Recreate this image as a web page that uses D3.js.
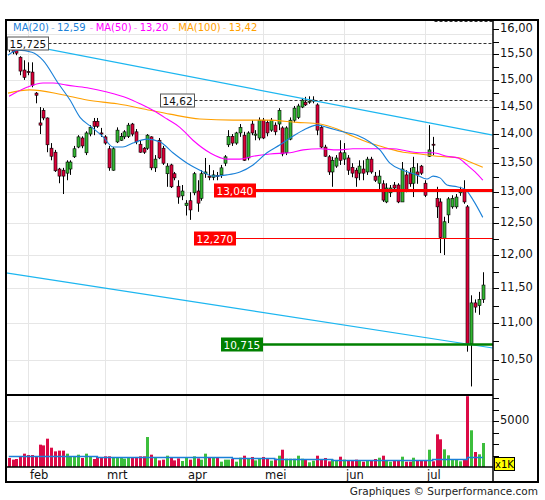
<!DOCTYPE html>
<html>
<head>
<meta charset="utf-8">
<script src="https://cdn.jsdelivr.net/npm/d3@7"></script>
<style>
body { margin: 0; background: #fff; }
text { font-family: "DejaVu Sans", Verdana, sans-serif; }
</style>
</head>
<body>
<svg id="chart" width="545" height="500"></svg>
<script>
// daily candles, index 0 = last days of january
var opens = [15.68,15.66,15.62,15.44,15.19,15.16,15.15,14.75,14.20,14.43,14.29,13.75,13.68,13.39,13.37,13.32,13.39,13.60,13.77,13.93,
  13.67,14.00,14.23,14.23,14.02,13.95,13.74,13.37,13.86,13.89,13.95,13.96,14.18,14.04,13.82,13.75,13.75,13.95,13.41,13.89,
  13.75,13.31,13.46,13.31,13.10,12.94,12.78,12.86,12.99,13.02,12.90,13.31,13.27,13.25,13.28,13.29,13.49,13.81,13.96,13.84,
  14.02,13.98,13.58,14.18,13.98,13.93,14.25,14.21,14.07,14.16,14.18,14.11,13.67,13.91,14.25,14.30,14.49,14.58,14.58,14.60,
  14.53,14.12,13.77,13.60,13.34,13.44,13.67,13.56,13.58,13.42,13.37,13.32,13.39,13.34,13.56,13.27,13.15,13.14,12.84,12.99,
  13.12,13.12,12.84,13.29,13.32,13.15,13.34,13.44,13.15,13.61,13.82,12.90,12.84,12.26,12.63,12.76,12.76,12.99,13.04,12.76,
  10.715,11.29,11.25,11.34]
var highs = [15.725,15.70,15.66,15.46,15.38,15.34,15.34,14.77,14.49,14.47,14.30,13.84,13.72,13.41,13.41,13.54,13.54,13.79,13.98,13.96,
  14.05,14.16,14.29,14.29,14.11,13.98,13.79,13.77,14.12,14.02,14.07,14.20,14.20,14.09,13.89,13.77,14.00,13.96,13.63,13.93,
  13.79,13.49,13.48,13.34,13.20,13.12,12.87,13.00,13.34,13.20,13.37,13.58,13.46,13.37,13.34,13.46,13.63,14.07,14.00,14.04,
  14.18,14.04,14.05,14.25,14.07,14.30,14.29,14.25,14.29,14.21,14.47,14.14,14.14,14.30,14.51,14.55,14.66,14.68,14.69,14.69,
  14.56,14.16,13.81,13.63,13.60,13.63,13.89,13.84,13.63,13.49,13.41,13.54,13.54,13.60,13.60,13.34,13.37,13.20,13.15,13.12,
  13.17,13.15,13.51,13.37,13.41,13.60,13.49,13.46,13.20,14.16,13.95,13.09,12.90,12.60,12.92,12.95,12.97,13.09,13.20,12.79,
  11.40,11.34,11.45,11.74]
var lows = [15.54,15.50,15.48,15.09,15.00,15.09,14.86,14.56,14.00,14.25,13.68,13.54,13.34,13.15,12.97,13.20,13.29,13.58,13.75,13.75,
  13.63,13.96,13.98,14.11,13.95,13.81,13.36,13.36,13.84,13.88,13.91,13.93,13.96,13.82,13.67,13.65,13.72,13.37,13.34,13.56,
  13.46,13.09,13.07,13.20,12.81,12.87,12.62,12.55,12.95,12.68,12.86,13.24,13.20,13.20,13.20,13.24,13.44,13.77,13.79,13.81,
  13.95,13.53,13.54,13.98,13.89,13.89,13.91,13.96,14.04,13.98,14.07,13.61,13.63,13.89,14.21,14.27,14.47,14.51,14.55,14.56,
  13.98,13.75,13.60,13.29,13.09,13.41,13.46,13.46,13.29,13.25,13.09,13.20,13.20,13.29,13.31,13.17,13.04,12.84,12.82,12.92,
  13.04,12.82,12.84,13.00,13.09,12.92,13.14,13.29,12.92,13.60,13.63,12.58,12.03,12.00,12.50,12.73,12.73,12.94,12.81,10.61,
  10.15,11.15,11.12,11.29]
var closes = [15.60,15.55,15.52,15.17,15.05,15.14,14.90,14.71,14.16,14.29,13.81,13.61,13.36,13.27,13.27,13.51,13.51,13.74,13.95,13.79,
  14.02,14.12,14.14,14.14,14.00,13.84,13.41,13.74,14.07,13.96,14.04,14.16,14.00,13.86,13.68,13.68,13.98,13.41,13.56,13.58,
  13.49,13.44,13.09,13.24,12.92,13.02,12.82,12.71,13.31,12.82,13.31,13.34,13.25,13.29,13.27,13.41,13.60,13.96,13.84,14.02,
  14.12,13.54,14.02,14.02,14.00,14.25,13.93,14.02,14.25,14.04,14.43,13.65,14.11,14.25,14.47,14.51,14.62,14.53,14.60,14.62,
  14.07,13.77,13.61,13.34,13.54,13.58,13.54,13.67,13.37,13.32,13.24,13.44,13.32,13.56,13.34,13.20,13.27,12.87,13.07,13.07,
  13.07,12.84,13.39,13.04,13.14,13.42,13.29,13.32,12.95,13.72,13.81,12.76,12.27,12.52,12.89,12.90,12.92,13.04,12.84,10.715,
  11.29,11.23,11.34,11.55]
var volumes = [980,800,870,1090,1450,1300,1300,1160,2430,2350,3080,2100,1700,1780,1780,1450,1160,1160,1340,980,
  1450,1090,870,1090,1090,1160,1160,1090,1010,1010,910,1010,1010,1090,1160,1160,3260,1340,1090,720,
  800,1230,1010,720,940,650,1010,800,1160,940,800,1450,1010,1090,1010,580,800,800,870,580,
  1010,1230,940,1090,720,940,1090,870,690,900,1230,1880,900,900,900,1230,900,800,510,690,
  1230,800,980,615,800,690,1120,800,690,690,800,690,580,690,690,870,1010,1230,690,580,
  720,720,1120,580,580,1010,720,720,720,1880,620,3550,3010,1920,1270,760,760,620,760,7700,
  3990,1630,1380,2610]

// moving averages: [day index, price]
var ma20 = [[-0.2,15.48],[2.4,15.58],[6,15.54],[8.9,15.38],[12.8,14.94],[15.9,14.62],[18.5,14.30],[21.6,14.12],[24.5,13.95],
  [27.1,13.77],[29.6,13.77],[32.2,13.84],[35.9,13.91],[39.3,13.86],[42.6,13.67],[46.3,13.49],[49.6,13.37],[53,13.27],
  [56.6,13.29],[60,13.34],[63.4,13.46],[67,13.67],[70.4,13.81],[73,13.93],[76.4,14.07],[80,14.16],[82.6,14.12],[86.7,14.04],
  [90.4,13.98],[93.7,13.86],[96.3,13.72],[98.9,13.49],[102.3,13.37],[105.9,13.29],[108.5,13.22],[110.1,13.27],[111.9,13.24],
  [113.7,13.12],[116.3,13.09],[118.4,13.05],[120.5,12.87],[123,12.59]]
var ma50 = [[0.1,14.69],[4.7,14.86],[8.9,14.94],[11.5,14.94],[15.1,14.90],[20.3,14.85],[25.5,14.77],[30.7,14.66],[34.1,14.55],
  [37.4,14.43],[41.1,14.27],[44.4,14.12],[47.8,13.89],[52.2,13.67],[56.6,13.56],[60,13.56],[63.4,13.61],[67.8,13.65],
  [73,13.67],[76.4,13.72],[80.8,13.74],[85.2,13.72],[89.3,13.74],[94.5,13.74],[99.7,13.74],[103.3,13.70],[106.7,13.67],
  [110.1,13.67],[113.7,13.61],[116.6,13.58],[118.9,13.46],[121,13.34],[123,13.20]]
var ma100 = [[-0.2,14.75],[5.5,14.81],[13.3,14.73],[20.3,14.62],[28.1,14.55],[36.7,14.43],[41.8,14.36],[49.6,14.27],
  [58.2,14.25],[67,14.25],[74.8,14.21],[80.8,14.18],[85.2,14.09],[89.3,13.96],[93.7,13.84],[98.2,13.75],[102.3,13.68],
  [106.7,13.65],[111.1,13.61],[117.1,13.58],[119.7,13.51],[123,13.42]]
var volAvg = [[0,1190],[23,1120],[58,1010],[69,920],[84,810],[97,710],[110,840],[119,1050],[123,1050]]

var trendUpper = [[-0.7,15.76],[125.6,13.98]]
var trendLower = [[-0.7,11.73],[125.6,10.66]]

var levelPrice = [15.725,14.62,13.04,12.27,10.715,16.16]
var levelLabel = ["15,725","14,62","13,040","12,270","10,715",""]
var levelFrom = [-0.5,39.25,53.26,48.07,55.08,110.3]
var levelKind = ["dash","dash","redThick","redThin","green","dash"]

var monthLabels = ["feb","mrt","apr","mei","jun","jul"]
var monthStart = [5,25,46,66,87,108]
var priceTicks = [10.5,11,11.5,12,12.5,13,13.5,14,14.5,15,15.5,16]
var priceMinor = [10.25,10.75,11.25,11.75,12.25,12.75,13.25,13.75,14.25,14.75,15.25,15.75]
var volTicks = [1250,2500,3750,5000,6250,7500]
var volLabels = [5000]

var legendNames = ["MA(20)","MA(50)","MA(100)"]
var legendValues = [12.59,13.20,13.42]

var nl = d3.formatLocale({decimal:",",thousands:".",grouping:[3],currency:["","€"]})
var f2 = nl.format(".2f")

var pL = 6, pR = 493, pT = 20, priceBottom = 395, volBottom = 467, axisBottom = 482, frameRight = 538
var upColor = "#33b533", downColor = "#dc0039"
var maColors = ["#1a80d8","#ff00ff","#ffa000"]

var candles = opens.map((o,i)=>({i:i,o:o,h:highs[i],l:lows[i],c:closes[i],v:volumes[i]}))

var x = d3.scaleLinear().domain([-0.71,125.65]).range([pL,pR])
var y = d3.scaleLog().domain([10.04,16.19]).range([priceBottom,pT])
var yv = d3.scaleLinear().domain([0,7830]).range([volBottom,priceBottom])

var svg = d3.select("#chart")

var defs = svg.append("defs")
defs.append("clipPath").attr("id","clipPrice").append("rect")
  .attr("x",pL).attr("y",pT).attr("width",pR-pL).attr("height",priceBottom-pT)
defs.append("clipPath").attr("id","clipVol").append("rect")
  .attr("x",pL).attr("y",priceBottom).attr("width",pR-pL).attr("height",volBottom-priceBottom)

// grid
var grid = svg.append("g").attr("stroke","#e6e6e6").attr("stroke-width",1)
grid.selectAll("line.h")
  .data(priceTicks.filter(t=>y(t)>36))
  .enter().append("line")
  .attr("x1",pL).attr("x2",pR)
  .attr("y1",d=>Math.round(y(d))+0.5).attr("y2",d=>Math.round(y(d))+0.5)
grid.selectAll("line.m")
  .data(monthStart)
  .enter().append("line")
  .attr("x1",d=>Math.round(x(d))+0.5).attr("x2",d=>Math.round(x(d))+0.5)
  .attr("y1",pT).attr("y2",volBottom)
grid.append("line")
  .attr("x1",pL).attr("x2",pR)
  .attr("y1",Math.round(yv(5000))+0.5).attr("y2",Math.round(yv(5000))+0.5)
grid.append("line")
  .attr("x1",pL).attr("x2",pR).attr("y1",34.5).attr("y2",34.5)

// candles
var price = svg.append("g").attr("clip-path","url(#clipPrice)")
var cg = price.append("g")
cg.selectAll("line")
  .data(candles)
  .enter().append("line")
  .attr("x1",d=>Math.round(x(d.i))+0.5).attr("x2",d=>Math.round(x(d.i))+0.5)
  .attr("y1",d=>y(d.h)).attr("y2",d=>y(d.l))
  .attr("stroke","#000").attr("stroke-width",1)
cg.selectAll("rect")
  .data(candles)
  .enter().append("rect")
  .attr("x",d=>Math.round(x(d.i))-1)
  .attr("width",3)
  .attr("y",d=>y(Math.max(d.o,d.c)))
  .attr("height",d=>Math.max(1,Math.abs(y(d.o)-y(d.c))))
  .attr("fill",d=>d.c>=d.o?upColor:downColor)
  .attr("stroke","#000").attr("stroke-width",0.6)

// moving averages
var line = d3.line().x(d=>x(d[0])).y(d=>y(d[1])).curve(d3.curveMonotoneX)
price.selectAll("path.ma")
  .data([ma100,ma50,ma20])
  .enter().append("path")
  .attr("d",line)
  .attr("fill","none")
  .attr("stroke",(d,i)=>maColors[2-i])
  .attr("stroke-width",1.1)

// trend lines
var straight = d3.line().x(d=>x(d[0])).y(d=>y(d[1]))
price.selectAll("path.trend")
  .data([trendUpper,trendLower])
  .enter().append("path")
  .attr("d",straight)
  .attr("fill","none")
  .attr("stroke","#1cb6f0").attr("stroke-width",1.2)

// horizontal levels
var kinds = {
  dash:{stroke:"#333",width:1,dash:"3,2",fill:"#fff",text:"#111",border:"#555"},
  redThick:{stroke:"#ff0000",width:3,dash:null,fill:"#ff0000",text:"#fff",border:"#ff0000"},
  redThin:{stroke:"#ff0000",width:1,dash:null,fill:"#ff0000",text:"#fff",border:"#ff0000"},
  green:{stroke:"#008000",width:2.5,dash:null,fill:"#008000",text:"#fff",border:"#008000"}
}
var levels = levelPrice.map((p,i)=>({p:p,label:levelLabel[i],from:levelFrom[i],k:kinds[levelKind[i]]}))
var lg = svg.append("g")
levels.forEach(d=>{
  var yy = Math.round(y(d.p))+0.5
  var x0 = x(d.from)
  var g = lg.append("g")
  var bw = 0
  if (d.label) {
    var t = g.append("text").text(d.label)
      .attr("font-size",10.5).attr("fill",d.k.text)
      .attr("dominant-baseline","central")
    bw = t.node().getComputedTextLength()+4
    g.insert("rect","text")
      .attr("x",Math.round(x0)+0.5).attr("y",yy-6.5)
      .attr("width",Math.round(bw)).attr("height",13)
      .attr("fill",d.k.fill).attr("stroke",d.k.border).attr("stroke-width",1)
    t.attr("x",Math.round(x0)+2.5).attr("y",yy+0.5)
  }
  g.insert("line",":first-child")
    .attr("x1",Math.round(x0+bw)+0.5).attr("x2",pR)
    .attr("y1",yy).attr("y2",yy)
    .attr("stroke",d.k.stroke).attr("stroke-width",d.k.width)
    .attr("stroke-dasharray",d.k.dash)
})

// volume
var vol = svg.append("g").attr("clip-path","url(#clipVol)")
vol.selectAll("rect")
  .data(candles)
  .enter().append("rect")
  .attr("x",d=>Math.round(x(d.i))-1)
  .attr("width",3)
  .attr("y",d=>yv(d.v))
  .attr("height",d=>volBottom-yv(d.v))
  .attr("fill",d=>d.c>=d.o?"#3cbe3c":"#dc0a46")
vol.append("path")
  .datum(volAvg)
  .attr("d",d3.line().x(d=>x(d[0])).y(d=>Math.round(yv(d[1]))+0.5).curve(d3.curveStepAfter))
  .attr("fill","none").attr("stroke","#1a80d8").attr("stroke-width",1.5)

// legend
var leg = svg.append("g").attr("font-size",10)
var lx = 13
legendNames.forEach((n,i)=>{
  var a = leg.append("text").attr("x",lx).attr("y",27.5).attr("dominant-baseline","central")
    .attr("fill",maColors[i]).text(n)
  lx += a.node().getComputedTextLength()+2
  leg.append("text").attr("x",lx).attr("y",27.5).attr("dominant-baseline","central")
    .attr("fill",maColors[i]).attr("opacity",0.45).text("-")
  lx += 6
  var b = leg.append("text").attr("x",lx).attr("y",27.5).attr("dominant-baseline","central")
    .attr("fill",maColors[i]).text(f2(legendValues[i]))
  lx += b.node().getComputedTextLength()+4
  if (i<legendNames.length-1) {
    leg.append("text").attr("x",lx).attr("y",27.5).attr("dominant-baseline","central")
      .attr("fill",maColors[i+1]).attr("opacity",0.45).text("-")
    lx += 6
  }
})

// price axis
var ax = svg.append("g")
ax.selectAll("line.maj")
  .data(priceTicks.concat(priceMinor))
  .enter().append("line")
  .attr("x1",pR).attr("x2",pR+6)
  .attr("y1",d=>Math.round(y(d))+0.5).attr("y2",d=>Math.round(y(d))+0.5)
  .attr("stroke","#000")
ax.selectAll("text.p")
  .data(priceTicks)
  .enter().append("text")
  .attr("x",pR+7).attr("y",d=>y(d)-1)
  .attr("dominant-baseline","central")
  .attr("font-size",11.5).attr("fill","#111")
  .text(d=>f2(d))
ax.selectAll("line.v")
  .data(volTicks)
  .enter().append("line")
  .attr("x1",pR).attr("x2",pR+6)
  .attr("y1",d=>Math.round(yv(d))+0.5).attr("y2",d=>Math.round(yv(d))+0.5)
  .attr("stroke","#000")
ax.selectAll("text.v")
  .data(volLabels)
  .enter().append("text")
  .attr("x",pR+7).attr("y",d=>yv(d)-1)
  .attr("dominant-baseline","central")
  .attr("font-size",11.5).attr("fill","#111")
  .text(d=>d)

// month labels
svg.append("g").selectAll("text")
  .data(monthStart)
  .enter().append("text")
  .attr("x",d=>x(d)+2).attr("y",474.5)
  .attr("dominant-baseline","central")
  .attr("font-size",11.5).attr("fill","#111")
  .text((d,i)=>monthLabels[i])

// x1K box
var kb = svg.append("g")
kb.append("rect").attr("x",pR+1.5).attr("y",457.5).attr("width",20).attr("height",13)
  .attr("fill","#ffff00").attr("stroke","#000")
kb.append("text").attr("x",pR+11.5).attr("y",464.5).attr("text-anchor","middle")
  .attr("dominant-baseline","central").attr("font-size",10).text("x1K")

// frame
var fr = svg.append("g").attr("stroke","#000").attr("fill","none")
fr.append("rect").attr("x",pL).attr("y",pT).attr("width",frameRight-pL).attr("height",axisBottom-pT)
  .attr("stroke-width",2)
fr.append("line").attr("x1",pR).attr("x2",pR).attr("y1",pT).attr("y2",axisBottom).attr("stroke-width",1.5)
fr.append("line").attr("x1",pL).attr("x2",pR).attr("y1",priceBottom).attr("y2",priceBottom).attr("stroke-width",2)
fr.append("line").attr("x1",pL).attr("x2",pR).attr("y1",volBottom).attr("y2",volBottom).attr("stroke-width",1.5)

svg.append("text")
  .text("Graphiques © Surperformance.com")
  .attr("x",frameRight).attr("y",491)
  .attr("text-anchor","end")
  .attr("dominant-baseline","central")
  .attr("font-size",10.5).attr("fill","#222")
</script>
</body>
</html>
